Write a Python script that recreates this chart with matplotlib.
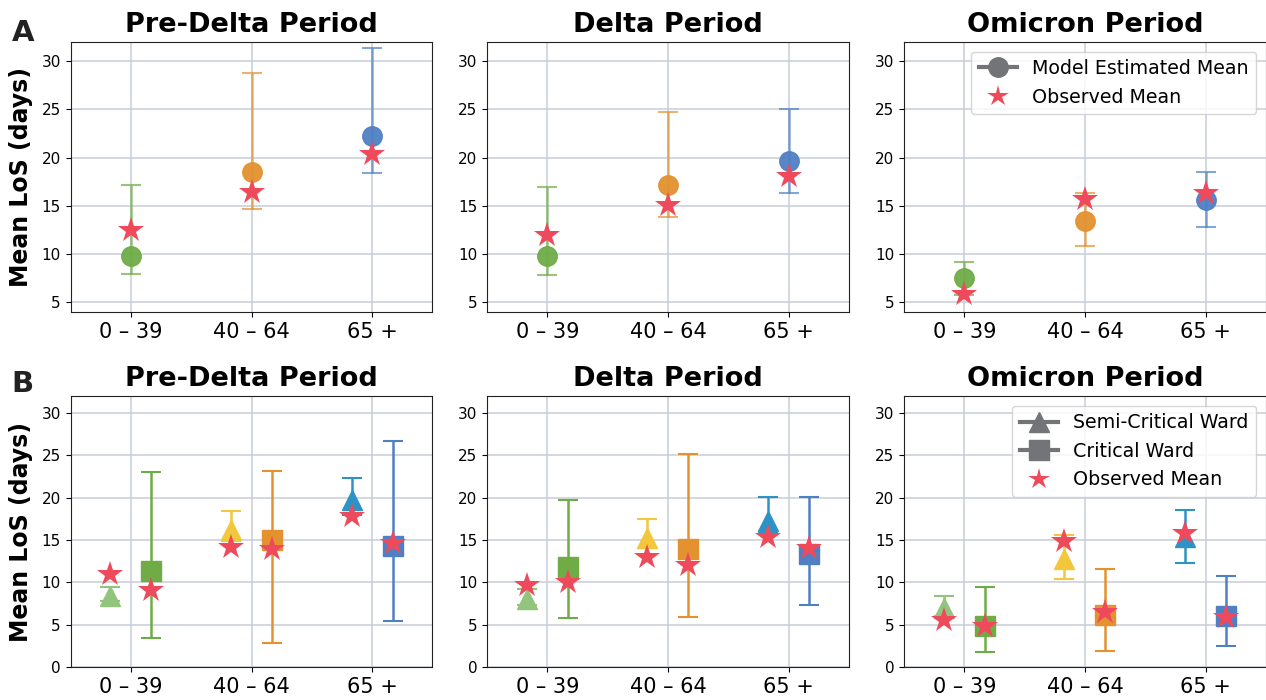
import matplotlib.pyplot as plt
from matplotlib.lines import Line2D

## Mean length of stay by age group, per pandemic period ##
groups = ['0 – 39', '40 – 64', '65 +']
periods = ['Pre-Delta Period', 'Delta Period', 'Omicron Period']

# row A: model estimated mean with interval, observed mean
model_mean = [[9.8, 18.5, 22.3], [9.8, 17.2, 19.7], [7.5, 13.4, 15.6]]
model_lo = [[7.9, 14.7, 18.4], [7.8, 13.9, 16.3], [5.8, 10.8, 12.8]]
model_hi = [[17.2, 28.8, 31.4], [17.0, 24.7, 25.1], [9.2, 16.3, 18.5]]
obs_mean = [[12.5, 16.4, 20.4], [12.0, 15.1, 18.1], [5.9, 15.7, 16.3]]

# row B: semi-critical ward
semi_mean = [[8.4, 16.2, 19.7], [8.0, 15.2, 17.3], [7.0, 12.8, 15.4]]
semi_lo = [[7.8, 14.9, 18.0], [7.3, 14.1, 16.0], [6.0, 10.4, 12.3]]
semi_hi = [[9.4, 18.4, 22.3], [9.2, 17.5, 20.1], [8.4, 15.6, 18.5]]
obs_semi = [[11.0, 14.2, 17.8], [9.7, 13.0, 15.4], [5.5, 14.9, 15.8]]

# row B: critical ward
crit_mean = [[11.3, 15.0, 14.3], [11.8, 13.9, 13.4], [4.9, 6.2, 6.0]]
crit_lo = [[3.4, 2.8, 5.4], [5.8, 5.9, 7.3], [1.8, 1.9, 2.5]]
crit_hi = [[23.0, 23.2, 26.7], [19.7, 25.2, 20.1], [9.4, 11.6, 10.7]]
obs_crit = [[9.1, 13.9, 14.6], [10.0, 12.0, 14.0], [4.9, 6.5, 5.9]]

age_colors = ['#6fac46', '#e3922f', '#5080c3']
semi_colors = ['#93c47d', '#f3c73c', '#2d93c6']
star_color = '#ef4a5b'
grid_color = '#c8cdd8'
legend_gray = '#737478'

fig = plt.figure(figsize=(12.66, 7), dpi=100)
lefts = [0.0558, 0.3847, 0.7141]
w = 0.2858
top_axes = [fig.add_axes([l, 0.5543, w, 0.3857]) for l in lefts]
bot_axes = [fig.add_axes([l, 0.0471, w, 0.3871]) for l in lefts]

x = [0, 1, 2]
off = 0.17


def style(ax, title, ylo, yticks):
    ax.set_xlim(-0.5, 2.5)
    ax.set_ylim(ylo, 32)
    ax.set_xticks(x)
    ax.set_xticklabels(groups, fontsize=15)
    ax.set_yticks(yticks)
    ax.tick_params(axis='y', labelsize=11)
    ax.grid(True, color=grid_color, linewidth=1.1)
    ax.set_axisbelow(True)
    ax.set_title(title, fontsize=19.5, fontweight='bold', pad=7)
    for spine in ax.spines.values():
        spine.set_color('#222222')


# row A
for p, ax in enumerate(top_axes):
    for i in x:
        m = model_mean[p][i]
        ax.errorbar(i, m, yerr=[[m - model_lo[p][i]], [model_hi[p][i] - m]],
                    fmt='none', ecolor=age_colors[i], elinewidth=1.8,
                    capsize=7, capthick=1.5, alpha=0.7, zorder=2)
        ax.plot(i, m, 'o', color=age_colors[i], markersize=14, alpha=0.95, zorder=3)
        ax.plot(i, obs_mean[p][i], '*', color=star_color, markersize=19,
                markeredgewidth=0, zorder=4)
    style(ax, periods[p], 4, [5, 10, 15, 20, 25, 30])

# row B
for p, ax in enumerate(bot_axes):
    for i in x:
        m = semi_mean[p][i]
        ax.errorbar(i - off, m, yerr=[[m - semi_lo[p][i]], [semi_hi[p][i] - m]],
                    fmt='none', ecolor=semi_colors[i], elinewidth=1.8,
                    capsize=7, capthick=1.5, zorder=2)
        ax.plot(i - off, m, '^', color=semi_colors[i], markersize=14, zorder=3)
        ax.plot(i - off, obs_semi[p][i], '*', color=star_color, markersize=19,
                markeredgewidth=0, zorder=4)
        m = crit_mean[p][i]
        ax.errorbar(i + off, m, yerr=[[m - crit_lo[p][i]], [crit_hi[p][i] - m]],
                    fmt='none', ecolor=age_colors[i], elinewidth=1.8,
                    capsize=7, capthick=1.5, zorder=2)
        ax.plot(i + off, m, 's', color=age_colors[i], markersize=14, zorder=3)
        ax.plot(i + off, obs_crit[p][i], '*', color=star_color, markersize=19,
                markeredgewidth=0, zorder=4)
    style(ax, periods[p], 0, [0, 5, 10, 15, 20, 25, 30])

for ax in (top_axes[0], bot_axes[0]):
    ax.set_ylabel('Mean LoS (days)', fontsize=17, fontweight='bold', labelpad=6)

# legends
star_handle = Line2D([], [], marker='*', color=star_color, linestyle='none',
                     markersize=16, markeredgewidth=0)
h_top = [Line2D([], [], marker='o', color=legend_gray, linewidth=3, markersize=14),
         star_handle]
top_axes[2].legend(h_top, ['Model Estimated Mean', 'Observed Mean'],
                   loc='upper right', fontsize=13.7, framealpha=0.8,
                   borderaxespad=0.5)
h_bot = [Line2D([], [], marker='^', color=legend_gray, linewidth=3, markersize=14),
         Line2D([], [], marker='s', color=legend_gray, linewidth=3, markersize=14),
         star_handle]
bot_axes[2].legend(h_bot, ['Semi-Critical Ward', 'Critical Ward', 'Observed Mean'],
                   loc='upper right', fontsize=13.7, framealpha=0.8,
                   borderaxespad=0.5)

fig.text(0.009, 1 - 41 / 700, 'A', fontsize=21, fontweight='bold', color='#222222')
fig.text(0.009, 1 - 392 / 700, 'B', fontsize=21, fontweight='bold', color='#222222')

plt.savefig('out.png', dpi=100)
